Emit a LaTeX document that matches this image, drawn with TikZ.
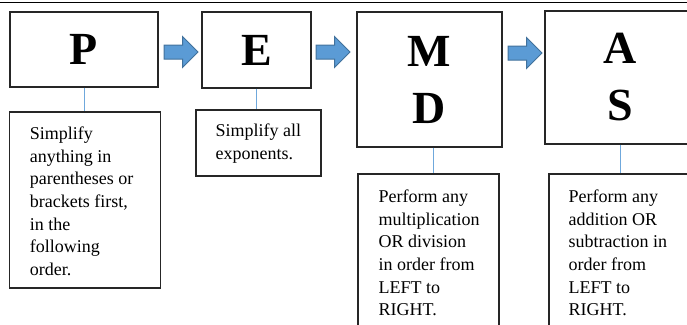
\documentclass[tikz,border=0pt]{standalone}
\usepackage{fontspec}
\setmainfont{Liberation Serif}
\usetikzlibrary{shapes.arrows,positioning,calc}
\definecolor{arrowfill}{HTML}{5B9BD5}
\definecolor{arrowline}{HTML}{41719C}
\definecolor{linkblue}{HTML}{6FA8DC}
\tikzset{
    letterbox/.style={draw=black!85,line width=1.1pt,align=center,
        font=\fontsize{46}{57}\selectfont\bfseries},
    notebox/.style={draw=black!85,line width=1.1pt},
    notetext/.style={anchor=north west,inner sep=0pt,align=left,
        font=\fontsize{18}{22.7}\selectfont},
    blockarrow/.style={single arrow,fill=arrowfill,draw=arrowline,line width=1pt,
        inner xsep=0pt,inner ysep=6.5pt,minimum height=34pt,minimum width=30pt,
        single arrow head extend=8.5pt,anchor=west},
    link/.style={draw=linkblue,line width=0.8pt},
}
\begin{document}
\begin{tikzpicture}[x=1pt,y=-1pt]
    \useasboundingbox (0,0) rectangle (687,324);
    \clip (0,0) rectangle (687,324);
    \draw[line width=1pt] (0,2) -- (687,2);

    % top row
    \node[letterbox,minimum width=148pt,minimum height=75pt] (p) at (84,49.5) {P};
    \node[letterbox,minimum width=109pt,minimum height=76pt] (e) at (256.5,50) {E};
    \node[letterbox,minimum width=145pt,minimum height=135pt] (md) at (429.5,79.5) {M\\D};
    \node[letterbox,minimum width=150pt,minimum height=133pt] (as) at (620,77.5) {A\\S};

    \node[blockarrow] (a1) at (163.5,52) {};
    \node[blockarrow] (a2) at (315.5,52) {};
    \node[blockarrow] (a3) at (507.5,53) {};

    % notes
    \node[notebox,minimum width=150.5pt,minimum height=176pt] (t1) at (85,200) {};
    \node[notebox,minimum width=125pt,minimum height=66pt] (t2) at (258.5,143) {};
    \node[notebox,minimum width=141pt,minimum height=166pt] (t3) at (428.5,257) {};
    \node[notebox,minimum width=151pt,minimum height=166pt] (t4) at (624.5,257) {};

    \node[notetext] (t1txt) at ($(t1.north west)+(20.5,15)$)
    {Simplify\\anything in\\parentheses or\\brackets first,\\in the\\following\\order.};
    \node[notetext] (t2txt) at ($(t2.north west)+(20,14)$)
    {Simplify all\\exponents.};
    \node[notetext] (t3txt) at ($(t3.north west)+(21,16)$)
    {Perform any\\multiplication\\OR division\\in order from\\LEFT to\\RIGHT.};
    \node[notetext] (t4txt) at ($(t4.north west)+(20,16)$)
    {Perform any\\addition OR\\subtraction in\\order from\\LEFT to\\RIGHT.};

    \draw[link] (p.south) -- (p.south |- t1.north);
    \draw[link] (e.south) -- (e.south |- t2.north);
    \draw[link] ($(md.south)+(4,0)$) -- ($(md.south |- t3.north)+(4,0)$);
    \draw[link] (as.south) -- (as.south |- t4.north);
\end{tikzpicture}
\end{document}
